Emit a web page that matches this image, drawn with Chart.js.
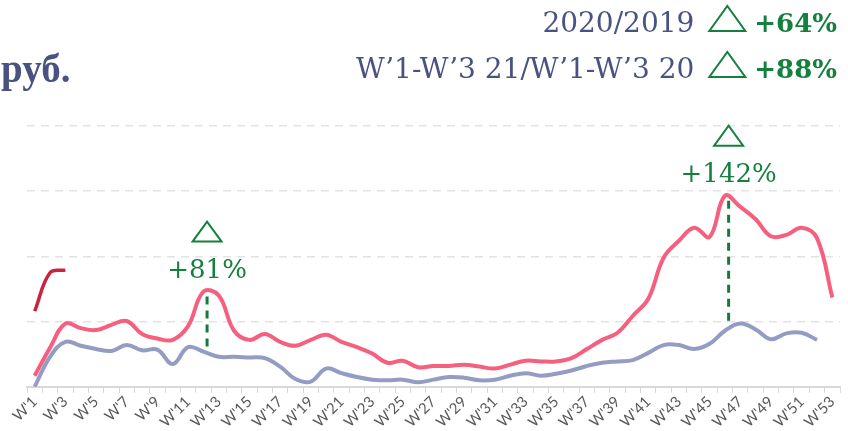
<!DOCTYPE html>
<html>
<head>
<meta charset="utf-8">
<script src="https://cdn.jsdelivr.net/npm/chart.js@4.4.1/dist/chart.umd.min.js"></script>
<style>
  html, body { margin: 0; padding: 0; background: #fff; }
  .chart-box { position: relative; width: 848px; height: 431px; }
</style>
</head>
<body>
<div class="chart-box"><canvas id="myChart"></canvas></div>
<script>
// weeks W'1 .. W'53
var weeks = [];
for (var w = 1; w <= 53; w++) weeks.push("W'" + w);

// weekly sales, relative units (rub.)
var sales2021 = [1.16, 1.75, 1.79];
var sales2020 = [0.17, 0.60, 0.97, 0.90, 0.87, 0.95, 1.01, 0.81, 0.74, 0.72,
                 0.93, 1.46, 1.40, 0.86, 0.72, 0.81, 0.69, 0.63, 0.72, 0.80,
                 0.69, 0.61, 0.51, 0.37, 0.40, 0.30, 0.32, 0.32, 0.34, 0.31,
                 0.28, 0.34, 0.40, 0.39, 0.39, 0.44, 0.58, 0.72, 0.83, 1.09,
                 1.35, 1.98, 2.24, 2.44, 2.30, 2.93, 2.76, 2.57, 2.31, 2.33,
                 2.44, 2.28, 1.37];
var sales2019 = [0.00, 0.46, 0.69, 0.63, 0.58, 0.55, 0.64, 0.56, 0.57, 0.35,
                 0.61, 0.54, 0.46, 0.46, 0.45, 0.44, 0.31, 0.12, 0.08, 0.28,
                 0.21, 0.15, 0.11, 0.10, 0.11, 0.07, 0.11, 0.15, 0.14, 0.10,
                 0.11, 0.17, 0.21, 0.17, 0.20, 0.25, 0.32, 0.37, 0.39, 0.41,
                 0.52, 0.64, 0.64, 0.58, 0.66, 0.86, 0.97, 0.88, 0.73, 0.82,
                 0.83, 0.72, null];

// header and peak call-outs
var unitLabel = "руб.";
var headerTexts = ["2020/2019", "W’1-W’3 21/W’1-W’3 20"];
var headerPct = ["+64%", "+88%"];
var peakWeeks = [11, 45];   // index into weeks (W'12, W'46)
var peakPct = ["+81%", "+142%"];

var navy = "#4a5282";
var green = "#15803d";

function drawTriangle(ctx, cx, bottom, w, h) {
  ctx.beginPath();
  ctx.moveTo(cx - w / 2, bottom);
  ctx.lineTo(cx + w / 2, bottom);
  ctx.lineTo(cx, bottom - h);
  ctx.closePath();
  ctx.stroke();
}

const calloutPlugin = {
  id: "callouts",
  afterDatasetsDraw(chart) {
    const ctx = chart.ctx;
    const red = chart.getDatasetMeta(1).data;
    const blue = chart.getDatasetMeta(2).data;
    ctx.save();
    // dashed lines + percentages over the peaks
    for (let k = 0; k < peakWeeks.length; k++) {
      const i = peakWeeks[k];
      const x = (red[i].x + red[i + 1].x) / 2 - 4;
      const top = Math.min(red[i].y, red[i + 1].y) + 5;
      const bottom = blue[i].y - 4;
      ctx.strokeStyle = "#187a3a";
      ctx.lineWidth = 3;
      ctx.setLineDash([8, 6]);
      ctx.beginPath();
      ctx.moveTo(x, top);
      ctx.lineTo(x, bottom);
      ctx.stroke();
      ctx.setLineDash([]);

      const base = top - 19;
      ctx.fillStyle = green;
      ctx.font = '26px "DejaVu Serif"';
      ctx.textAlign = "center";
      ctx.textBaseline = "alphabetic";
      ctx.fillText(peakPct[k], x, base);
      ctx.strokeStyle = green;
      ctx.lineWidth = 2;
      drawTriangle(ctx, x, base - 36, 29, 20);
    }

    // header lines at the top right
    const bases = [32, 78];
    for (let k = 0; k < headerTexts.length; k++) {
      let x = 837;
      ctx.textAlign = "right";
      ctx.fillStyle = green;
      ctx.font = 'bold 26px "DejaVu Serif"';
      ctx.fillText(headerPct[k], x, bases[k]);
      x -= ctx.measureText(headerPct[k]).width + 9;
      ctx.strokeStyle = green;
      ctx.lineWidth = 2;
      drawTriangle(ctx, x - 18, bases[k] - 1, 36, 25);
      x -= 36 + 15;
      ctx.fillStyle = navy;
      ctx.font = '28px "DejaVu Serif"';
      ctx.fillText(headerTexts[k], x, bases[k]);
    }

    ctx.textAlign = "left";
    ctx.fillStyle = navy;
    ctx.font = 'bold 39px "Liberation Serif"';
    ctx.fillText(unitLabel, 1, 82);
    ctx.restore();
  }
};

const config = {
  type: "line",
  data: {
    labels: weeks,
    datasets: [
      {
        label: "2021",
        data: sales2021,
        borderColor: "#c7243f",
        borderWidth: 3.5,
        pointRadius: 0,
        tension: 0.4
      },
      {
        label: "2020",
        data: sales2020,
        borderColor: "#f5607e",
        borderWidth: 4,
        pointRadius: 0,
        tension: 0.4
      },
      {
        label: "2019",
        data: sales2019,
        borderColor: "#939dc3",
        borderWidth: 4,
        pointRadius: 0,
        tension: 0.4
      }
    ]
  },
  options: {
    responsive: true,
    maintainAspectRatio: false,
    animation: false,
    layout: {
      padding: { top: 126, left: 27, right: 8, bottom: 0 }
    },
    plugins: {
      legend: { display: false },
      tooltip: { enabled: false }
    },
    scales: {
      x: {
        offset: true,
        grid: {
          offset: true,
          drawOnChartArea: false,
          drawTicks: true,
          tickLength: 6,
          color: "#d9d9d9"
        },
        border: { display: true, color: "#d9d9d9", width: 2 },
        ticks: {
          autoSkip: false,
          maxRotation: 45,
          minRotation: 45,
          padding: 0,
          color: "#595959",
          font: { family: "Lato", size: 15 },
          callback: function (val, idx) {
            return idx % 2 === 0 ? weeks[idx] : "";
          }
        }
      },
      y: {
        min: 0,
        max: 4,
        ticks: { display: false, stepSize: 1 },
        grid: {
          drawTicks: false,
          lineWidth: 1.5,
          color: function (c) {
            return c.tick && c.tick.value === 0 ? "rgba(0,0,0,0)" : "#e3e3e3";
          }
        },
        border: { display: false, dash: [8, 6] }
      }
    }
  },
  plugins: [calloutPlugin]
};

const myChart = new Chart(document.getElementById("myChart"), config);
</script>
</body>
</html>
